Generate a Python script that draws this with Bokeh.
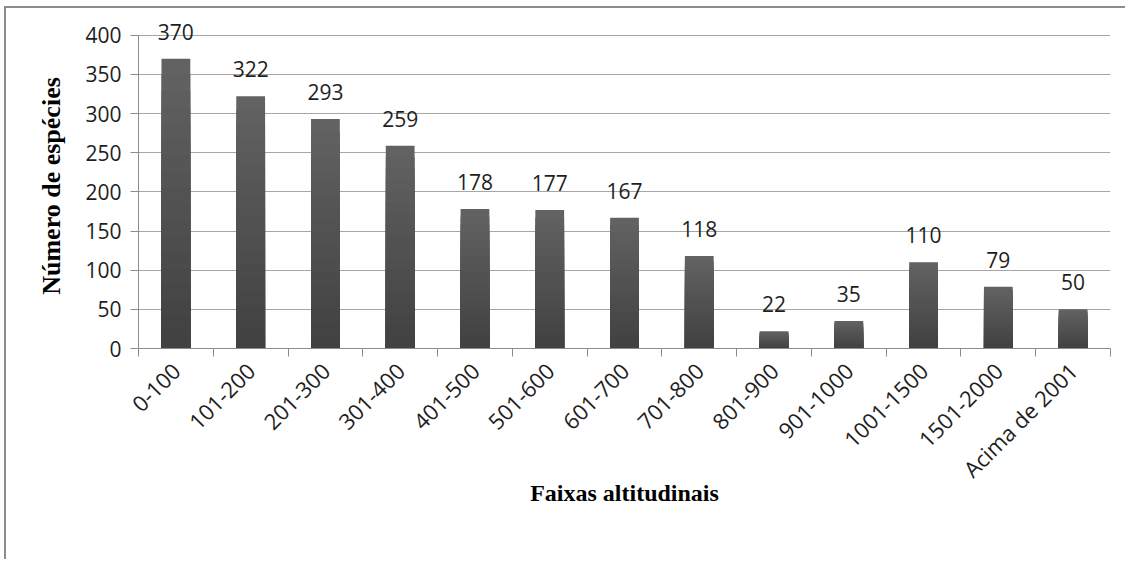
import math
import numpy as np
from bokeh.plotting import figure
from bokeh.models import ColumnDataSource, Range1d, FixedTicker, LabelSet
from bokeh.core.properties import value
from bokeh.embed import file_html
from bokeh.resources import INLINE

categories = ["0-100", "101-200", "201-300", "301-400", "401-500", "501-600",
              "601-700", "701-800", "801-900", "901-1000", "1001-1500",
              "1501-2000", "Acima de 2001"]
species = [370, 322, 293, 259, 178, 177, 167, 118, 22, 35, 110, 79, 50]
y_ticks = [0, 50, 100, 150, 200, 250, 300, 350, 400]

x = list(range(len(categories)))
src = ColumnDataSource(dict(x=x, top=species, label=[str(v) for v in species]))

p = figure(width=1121, height=553, output_backend="svg", toolbar_location=None,
           x_range=Range1d(-0.5, len(categories) - 0.5), y_range=Range1d(0, 415),
           min_border_left=132, min_border_right=17, min_border_top=15,
           min_border_bottom=213)
p.outline_line_color = None
p.background_fill_color = "white"
p.border_fill_color = "white"
# outer chart frame (top and left edges)
p.styles = {"margin-left": "4px", "margin-top": "6px",
            "border-top": "2px solid #8c8c8c", "border-left": "2px solid #8c8c8c"}

# bars with vertical gradient (lighter at top, darker at bottom)
N = 18
light = np.array([0x62, 0x62, 0x62])
dark = np.array([0x42, 0x42, 0x42])
vals = np.array(species, dtype=float)
for k in range(N):
    t = k / (N - 1)
    c = (light * (1 - t) + dark * t).astype(int)
    col = "#%02x%02x%02x" % tuple(c)
    p.vbar(x=x, top=list(vals * (1 - k / N)), width=0.385, fill_color=col,
           line_color=None)

labels = LabelSet(x="x", y="top", text="label", source=src, text_align="center",
                  text_baseline="alphabetic", y_offset=19,
                  text_font=value("Open Sans"), text_font_size="21px",
                  text_color="#1e1e1e")
p.add_layout(labels)

# y axis
p.yaxis.ticker = FixedTicker(ticks=y_ticks)
p.yaxis.bounds = (0, 400)
p.yaxis.major_tick_in = 0
p.yaxis.major_tick_out = 8
p.yaxis.minor_tick_line_color = None
p.yaxis.axis_line_color = "#8c8c8c"
p.yaxis.major_tick_line_color = "#8c8c8c"
p.yaxis.major_label_text_font = "Open Sans"
p.yaxis.major_label_text_font_size = "21px"
p.yaxis.major_label_text_color = "#1e1e1e"
p.yaxis.major_label_standoff = 9
p.yaxis.axis_label = "Número de espécies"
p.yaxis.axis_label_text_font = "Liberation Serif"
p.yaxis.axis_label_text_font_style = "bold"
p.yaxis.axis_label_text_font_size = "26px"
p.yaxis.axis_label_text_color = "black"
p.yaxis.axis_label_standoff = 16

# x axis
boundaries = [i - 0.5 for i in range(len(categories) + 1)]
p.xaxis.ticker = FixedTicker(ticks=x, minor_ticks=boundaries)
p.xaxis.major_label_overrides = {i: c for i, c in enumerate(categories)}
p.xaxis.major_tick_line_color = None
p.xaxis.minor_tick_line_color = "#8c8c8c"
p.xaxis.minor_tick_in = 0
p.xaxis.minor_tick_out = 8
p.xaxis.axis_line_color = "#8c8c8c"
p.xaxis.major_label_orientation = math.pi / 4
p.xaxis.major_label_text_font = "Open Sans"
p.xaxis.major_label_text_font_size = "22px"
p.xaxis.major_label_text_color = "#1e1e1e"
p.xaxis.major_label_standoff = 10
p.xaxis.axis_label = "Faixas altitudinais"
p.xaxis.axis_label_text_font = "Liberation Serif"
p.xaxis.axis_label_text_font_style = "bold"
p.xaxis.axis_label_text_font_size = "24px"
p.xaxis.axis_label_text_color = "black"
p.xaxis.axis_label_standoff = -17

p.xgrid.grid_line_color = None
p.ygrid.ticker = FixedTicker(ticks=y_ticks)
p.ygrid.grid_line_color = "#a6a6a6"
p.ygrid.grid_line_width = 1

open("out.html", "w").write(file_html(p, INLINE))
